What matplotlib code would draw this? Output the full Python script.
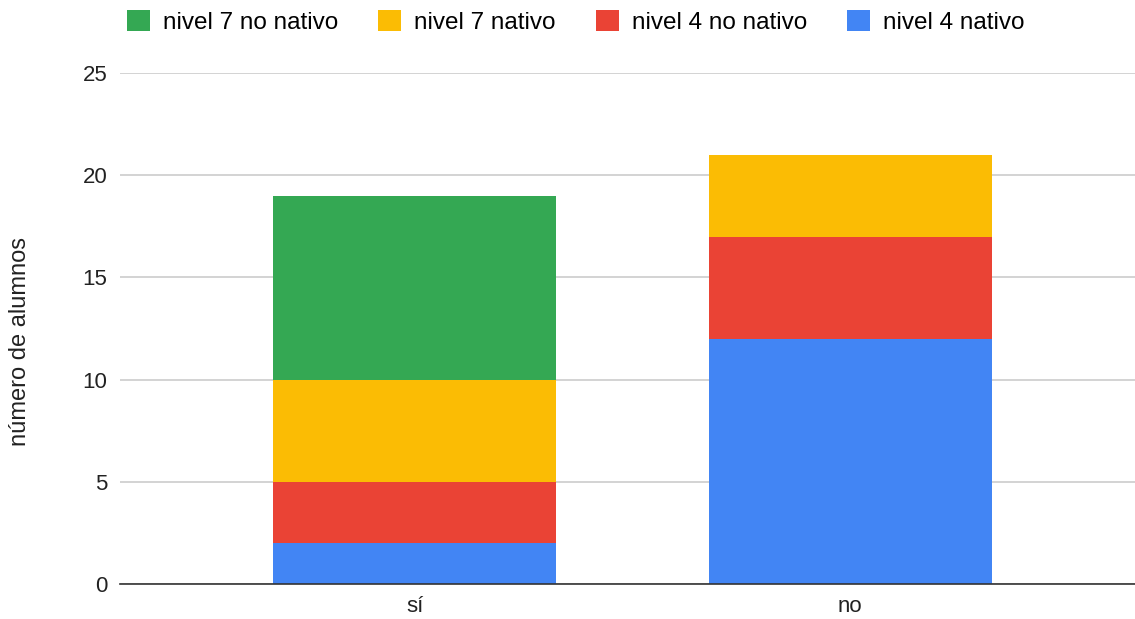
import matplotlib.pyplot as plt
from matplotlib.patches import Patch

plt.rcParams['font.family'] = ['Liberation Sans', 'DejaVu Sans']

categories = ["sí", "no"]
series_names = ["nivel 4 nativo", "nivel 4 no nativo", "nivel 7 nativo", "nivel 7 no nativo"]
nivel4_nativo = [2, 12]
nivel4_no_nativo = [3, 5]
nivel7_nativo = [5, 4]
nivel7_no_nativo = [9, 0]
y_ticks = [0, 5, 10, 15, 20, 25]

colors = ["#4285F4", "#EA4335", "#FBBC04", "#34A853"]
text_color = "#222222"

fig = plt.figure(figsize=(11.35, 6.19), dpi=100)
ax = fig.add_axes([120 / 1135, 1 - 584 / 619, 1015 / 1135, 511 / 619])

x = list(range(len(categories)))
bottom = [0] * len(categories)
for vals, color in zip([nivel4_nativo, nivel4_no_nativo, nivel7_nativo, nivel7_no_nativo], colors):
    ax.bar(x, vals, width=0.65, bottom=bottom, color=color, zorder=3)
    bottom = [b + v for b, v in zip(bottom, vals)]

ax.set_xlim(-0.676, 1.654)
ax.set_ylim(0, 25)
ax.set_yticks(y_ticks)
ax.set_xticks(x)
ax.set_xticklabels(categories)
ax.tick_params(axis='both', length=0, labelsize=16, colors=text_color)
ax.tick_params(axis='y', pad=9)
ax.tick_params(axis='x', pad=9)
ax.grid(axis='y', color="#cccccc", linewidth=1.2, zorder=0)
for side in ['top', 'right', 'left']:
    ax.spines[side].set_visible(False)
ax.spines['bottom'].set_color("#333333")
ax.spines['bottom'].set_linewidth(1.2)
ax.spines['bottom'].set_zorder(4)

fig.text(20 / 1135, 1 - 341 / 619, "número de alumnos", rotation=90, fontsize=17,
         color=text_color, ha='center', va='center')

handles = [Patch(facecolor=c, edgecolor='none') for c in colors[::-1]]
fig.legend(handles, series_names[::-1], loc='center left', bbox_to_anchor=(127 / 1135, 1 - 22 / 619),
           ncol=4, frameon=False, fontsize=17.5, handlelength=0.95, handleheight=0.95,
           handletextpad=0.53, columnspacing=1.65, borderaxespad=0, borderpad=0)

fig.savefig("out.png", dpi=100)
